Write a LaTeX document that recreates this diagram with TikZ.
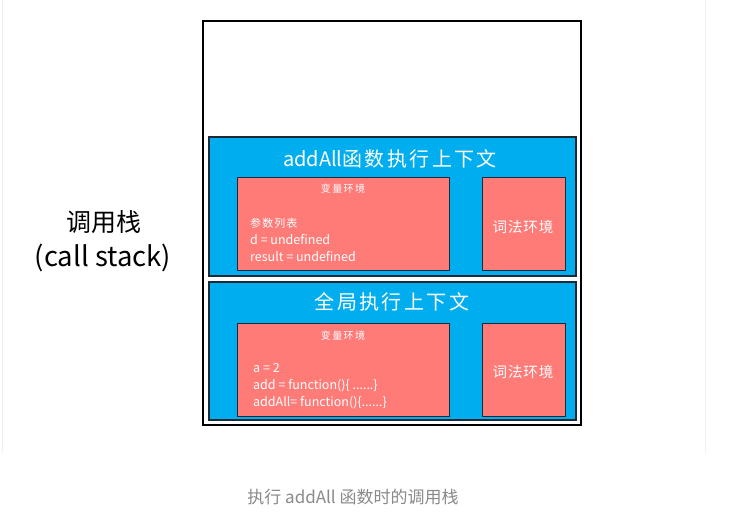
\documentclass[tikz,border=0pt]{standalone}
\usepackage{fontspec}
\setmainfont{Noto Sans CJK SC}
\newfontfamily\cjk{Noto Sans CJK SC}
\newfontfamily\cjkwide[LetterSpace=12]{Noto Sans CJK SC}
\definecolor{stackblue}{HTML}{00AEEF}
\definecolor{envred}{HTML}{FF7B78}
\definecolor{edgedark}{HTML}{1C2A38}
\definecolor{capgray}{HTML}{8A8A8A}
\begin{document}
\begin{tikzpicture}[x=1pt,y=-1pt,
  ctxbox/.style={draw=edgedark,line width=1.6pt,fill=stackblue},
  envbox/.style={draw=edgedark,line width=1pt,fill=envred},
  ctxtitle/.style={text=white,font=\fontsize{20}{22}\selectfont,inner sep=0pt},
  envtitle/.style={text=white,font=\fontsize{10}{12}\selectfont\addfontfeature{LetterSpace=14},inner sep=0pt},
  lextext/.style={text=white,font=\fontsize{14.5}{16}\selectfont\addfontfeature{LetterSpace=6},inner sep=0pt},
  envline/.style={text=white,font=\fontsize{12.5}{14}\selectfont,inner sep=0pt,anchor=west},
  sidelabel/.style={text=black,inner sep=0pt}]
\useasboundingbox (0,0) rectangle (729,517);
\fill[white] (0,0) rectangle (729,517);
% faint frame lines
\draw[black!6,line width=0.6pt] (2,0) -- (2,453);
\draw[black!6,line width=0.6pt] (705,0) -- (705,453);
% outer stack
\draw[black,line width=2.8pt,fill=white] (203,21) rectangle (581,425);
% addAll context
\draw[ctxbox] (209,137) rectangle (576,276);
\node[ctxtitle] (t1) at (390,159) {addAll{\cjkwide 函数执行上下文}};
\draw[envbox] (237,177) rectangle (449,270);
\draw[envbox] (482,177) rectangle (565,270);
\node[envtitle] (v1) at (343,189) {变量环境};
\node[envline,font=\fontsize{11}{12}\selectfont\addfontfeature{LetterSpace=10}] (p1) at (250,223) {参数列表};
\node[envline] (d1) at (250,240) {d = undefined};
\node[envline] (r1) at (250,257) {result = undefined};
\node[lextext] (l1) at (523,227) {词法环境};
% global context
\draw[ctxbox] (209,282) rectangle (576,420);
\node[ctxtitle] (t2) at (392,302) {\cjkwide 全局执行上下文};
\draw[envbox] (237,323) rectangle (449,416);
\draw[envbox] (482,323) rectangle (565,416);
\node[envtitle] (v2) at (343,336) {变量环境};
\node[envline] (a2) at (253,368) {a = 2};
\node[envline] (f2) at (253,386) {add = function()\{ ......\}};
\node[envline] (g2) at (253,403) {addAll= function()\{......\}};
\node[lextext] (l2) at (523,372) {词法环境};
% side label
\node[sidelabel,font=\fontsize{25}{28}\selectfont] (s1) at (104,222) {调用栈};
\node[sidelabel,font=\fontsize{27.5}{30}\selectfont] (s2) at (103,258) {(call stack)};
% caption
\node[text=capgray,font=\fontsize{17}{20}\selectfont,inner sep=0pt] (cap) at (353,497) {执行 addAll 函数时的调用栈};
\end{tikzpicture}
\end{document}
